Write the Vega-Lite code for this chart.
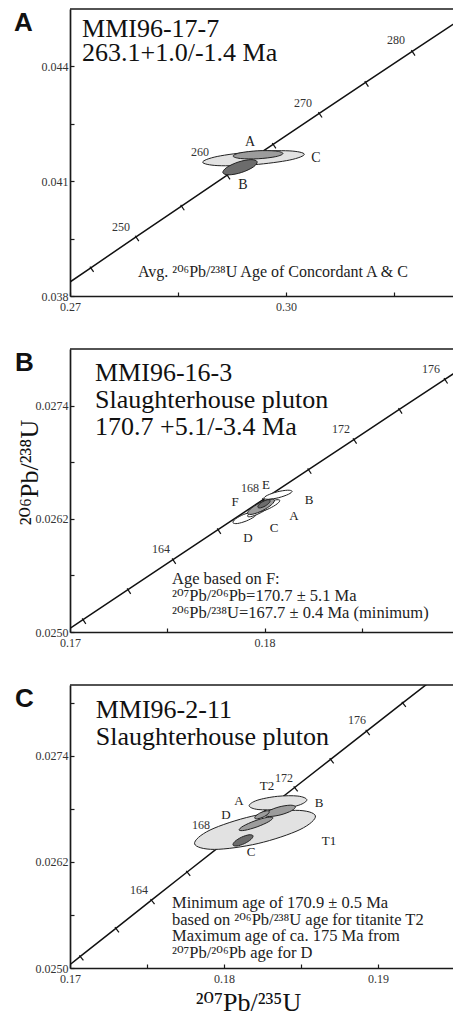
{
  "$schema": "https://vega.github.io/schema/vega-lite/v6.json",
  "padding": {"left": 14, "top": 8, "right": 0, "bottom": 0},
  "background": "white",
  "spacing": 36,
  "config": {
    "font": "Liberation Serif",
    "view": {"stroke": null},
    "axis": {"grid": false, "labelFont": "Liberation Serif", "labelFontSize": 12, "labelColor": "#333", "domainColor": "#1a1a1a", "domainWidth": 1.7, "tickColor": "#1a1a1a", "tickWidth": 1.2, "tickSize": -4, "labelFlush": false, "labelOverlap": false, "titleFont": "Liberation Serif, DejaVu Serif", "titleFontWeight": "normal", "titleFontSize": 26, "titleColor": "#111"},
    "axisX": {"labelPadding": 9},
    "axisY": {"labelPadding": 6},
    "title": {"font": "Liberation Sans", "fontWeight": "bold", "fontSize": 26, "color": "#111"}
  },
  "datasets": {
    "conc": [
      {"p": "A", "age": 240, "x": 0.266635, "y": 0.037932},
      {"p": "A", "age": 245, "x": 0.272888, "y": 0.038737},
      {"p": "A", "age": 250, "x": 0.279172, "y": 0.039543},
      {"p": "A", "age": 255, "x": 0.285486, "y": 0.040350},
      {"p": "A", "age": 260, "x": 0.291832, "y": 0.041157},
      {"p": "A", "age": 265, "x": 0.298209, "y": 0.041965},
      {"p": "A", "age": 270, "x": 0.304618, "y": 0.042773},
      {"p": "A", "age": 275, "x": 0.311057, "y": 0.043582},
      {"p": "A", "age": 280, "x": 0.317530, "y": 0.044392},
      {"p": "A", "age": 285, "x": 0.324033, "y": 0.045202},
      {"p": "A", "age": 290, "x": 0.330570, "y": 0.046013},
      {"p": "B", "age": 158, "x": 0.168366, "y": 0.0248126},
      {"p": "B", "age": 160, "x": 0.170670, "y": 0.0251306},
      {"p": "B", "age": 162, "x": 0.172978, "y": 0.0254487},
      {"p": "B", "age": 164, "x": 0.175291, "y": 0.0257669},
      {"p": "B", "age": 166, "x": 0.177608, "y": 0.0260851},
      {"p": "B", "age": 168, "x": 0.179930, "y": 0.0264035},
      {"p": "B", "age": 170, "x": 0.182256, "y": 0.0267220},
      {"p": "B", "age": 172, "x": 0.184587, "y": 0.0270406},
      {"p": "B", "age": 174, "x": 0.186923, "y": 0.0273593},
      {"p": "B", "age": 176, "x": 0.189263, "y": 0.0276781},
      {"p": "B", "age": 178, "x": 0.191607, "y": 0.0279969},
      {"p": "B", "age": 180, "x": 0.193957, "y": 0.0283159},
      {"p": "C", "age": 158, "x": 0.168366, "y": 0.0248126},
      {"p": "C", "age": 160, "x": 0.170670, "y": 0.0251306},
      {"p": "C", "age": 162, "x": 0.172978, "y": 0.0254487},
      {"p": "C", "age": 164, "x": 0.175291, "y": 0.0257669},
      {"p": "C", "age": 166, "x": 0.177608, "y": 0.0260851},
      {"p": "C", "age": 168, "x": 0.179930, "y": 0.0264035},
      {"p": "C", "age": 170, "x": 0.182256, "y": 0.0267220},
      {"p": "C", "age": 172, "x": 0.184587, "y": 0.0270406},
      {"p": "C", "age": 174, "x": 0.186923, "y": 0.0273593},
      {"p": "C", "age": 176, "x": 0.189263, "y": 0.0276781},
      {"p": "C", "age": 178, "x": 0.191607, "y": 0.0279969},
      {"p": "C", "age": 180, "x": 0.193957, "y": 0.0283159}
    ],
    "ell": [
      {"p": "A", "e": "C", "s": "light", "i": 0, "x": 0.302547, "y": 0.041704},
      {"p": "A", "e": "C", "s": "light", "i": 1, "x": 0.300529, "y": 0.041554},
      {"p": "A", "e": "C", "s": "light", "i": 2, "x": 0.295557, "y": 0.041431},
      {"p": "A", "e": "C", "s": "light", "i": 3, "x": 0.290543, "y": 0.041407},
      {"p": "A", "e": "C", "s": "light", "i": 4, "x": 0.288425, "y": 0.041496},
      {"p": "A", "e": "C", "s": "light", "i": 5, "x": 0.290443, "y": 0.041646},
      {"p": "A", "e": "C", "s": "light", "i": 6, "x": 0.295415, "y": 0.041769},
      {"p": "A", "e": "C", "s": "light", "i": 7, "x": 0.300429, "y": 0.041793},
      {"p": "A", "e": "A", "s": "medium", "i": 0, "x": 0.299579, "y": 0.041725},
      {"p": "A", "e": "A", "s": "medium", "i": 1, "x": 0.298584, "y": 0.041642},
      {"p": "A", "e": "A", "s": "medium", "i": 2, "x": 0.296140, "y": 0.041587},
      {"p": "A", "e": "A", "s": "medium", "i": 3, "x": 0.293679, "y": 0.041593},
      {"p": "A", "e": "A", "s": "medium", "i": 4, "x": 0.292643, "y": 0.041657},
      {"p": "A", "e": "A", "s": "medium", "i": 5, "x": 0.293638, "y": 0.041741},
      {"p": "A", "e": "A", "s": "medium", "i": 6, "x": 0.296082, "y": 0.041795},
      {"p": "A", "e": "A", "s": "medium", "i": 7, "x": 0.298543, "y": 0.041789},
      {"p": "A", "e": "B", "s": "dark", "i": 0, "x": 0.295989, "y": 0.041510},
      {"p": "A", "e": "B", "s": "dark", "i": 1, "x": 0.295459, "y": 0.041371},
      {"p": "A", "e": "B", "s": "dark", "i": 2, "x": 0.293847, "y": 0.041229},
      {"p": "A", "e": "B", "s": "dark", "i": 3, "x": 0.292096, "y": 0.041166},
      {"p": "A", "e": "B", "s": "dark", "i": 4, "x": 0.291233, "y": 0.041220},
      {"p": "A", "e": "B", "s": "dark", "i": 5, "x": 0.291763, "y": 0.041359},
      {"p": "A", "e": "B", "s": "dark", "i": 6, "x": 0.293375, "y": 0.041501},
      {"p": "A", "e": "B", "s": "dark", "i": 7, "x": 0.295126, "y": 0.041564},
      {"p": "B", "e": "D", "s": "white", "i": 0, "x": 0.179612, "y": 0.026263},
      {"p": "B", "e": "D", "s": "white", "i": 1, "x": 0.179478, "y": 0.026223},
      {"p": "B", "e": "D", "s": "white", "i": 2, "x": 0.179060, "y": 0.026177},
      {"p": "B", "e": "D", "s": "white", "i": 3, "x": 0.178603, "y": 0.026150},
      {"p": "B", "e": "D", "s": "white", "i": 4, "x": 0.178374, "y": 0.026159},
      {"p": "B", "e": "D", "s": "white", "i": 5, "x": 0.178508, "y": 0.026199},
      {"p": "B", "e": "D", "s": "white", "i": 6, "x": 0.178926, "y": 0.026246},
      {"p": "B", "e": "D", "s": "white", "i": 7, "x": 0.179383, "y": 0.026272},
      {"p": "B", "e": "C", "s": "white", "i": 0, "x": 0.180399, "y": 0.026366},
      {"p": "B", "e": "C", "s": "white", "i": 1, "x": 0.180264, "y": 0.026326},
      {"p": "B", "e": "C", "s": "white", "i": 2, "x": 0.179836, "y": 0.026268},
      {"p": "B", "e": "C", "s": "white", "i": 3, "x": 0.179366, "y": 0.026227},
      {"p": "B", "e": "C", "s": "white", "i": 4, "x": 0.179129, "y": 0.026226},
      {"p": "B", "e": "C", "s": "white", "i": 5, "x": 0.179264, "y": 0.026267},
      {"p": "B", "e": "C", "s": "white", "i": 6, "x": 0.179692, "y": 0.026324},
      {"p": "B", "e": "C", "s": "white", "i": 7, "x": 0.180162, "y": 0.026365},
      {"p": "B", "e": "A", "s": "white", "i": 0, "x": 0.180780, "y": 0.026396},
      {"p": "B", "e": "A", "s": "white", "i": 1, "x": 0.180649, "y": 0.026359},
      {"p": "B", "e": "A", "s": "white", "i": 2, "x": 0.180240, "y": 0.026309},
      {"p": "B", "e": "A", "s": "white", "i": 3, "x": 0.179793, "y": 0.026276},
      {"p": "B", "e": "A", "s": "white", "i": 4, "x": 0.179570, "y": 0.026280},
      {"p": "B", "e": "A", "s": "white", "i": 5, "x": 0.179701, "y": 0.026317},
      {"p": "B", "e": "A", "s": "white", "i": 6, "x": 0.180110, "y": 0.026367},
      {"p": "B", "e": "A", "s": "white", "i": 7, "x": 0.180557, "y": 0.026400},
      {"p": "B", "e": "B", "s": "white", "i": 0, "x": 0.181412, "y": 0.026492},
      {"p": "B", "e": "B", "s": "white", "i": 1, "x": 0.181226, "y": 0.026460},
      {"p": "B", "e": "B", "s": "white", "i": 2, "x": 0.180726, "y": 0.026424},
      {"p": "B", "e": "B", "s": "white", "i": 3, "x": 0.180204, "y": 0.026407},
      {"p": "B", "e": "B", "s": "white", "i": 4, "x": 0.179966, "y": 0.026418},
      {"p": "B", "e": "B", "s": "white", "i": 5, "x": 0.180152, "y": 0.026450},
      {"p": "B", "e": "B", "s": "white", "i": 6, "x": 0.180652, "y": 0.026486},
      {"p": "B", "e": "B", "s": "white", "i": 7, "x": 0.181174, "y": 0.026503},
      {"p": "B", "e": "F", "s": "medium", "i": 0, "x": 0.180502, "y": 0.026399},
      {"p": "B", "e": "F", "s": "medium", "i": 1, "x": 0.180367, "y": 0.026351},
      {"p": "B", "e": "F", "s": "medium", "i": 2, "x": 0.179908, "y": 0.026289},
      {"p": "B", "e": "F", "s": "medium", "i": 3, "x": 0.179395, "y": 0.026249},
      {"p": "B", "e": "F", "s": "medium", "i": 4, "x": 0.179128, "y": 0.026255},
      {"p": "B", "e": "F", "s": "medium", "i": 5, "x": 0.179263, "y": 0.026303},
      {"p": "B", "e": "F", "s": "medium", "i": 6, "x": 0.179722, "y": 0.026365},
      {"p": "B", "e": "F", "s": "medium", "i": 7, "x": 0.180235, "y": 0.026405},
      {"p": "B", "e": "E", "s": "dark", "i": 0, "x": 0.180280, "y": 0.026396},
      {"p": "B", "e": "E", "s": "dark", "i": 1, "x": 0.180234, "y": 0.026369},
      {"p": "B", "e": "E", "s": "dark", "i": 2, "x": 0.180033, "y": 0.026336},
      {"p": "B", "e": "E", "s": "dark", "i": 3, "x": 0.179794, "y": 0.026316},
      {"p": "B", "e": "E", "s": "dark", "i": 4, "x": 0.179658, "y": 0.026322},
      {"p": "B", "e": "E", "s": "dark", "i": 5, "x": 0.179704, "y": 0.026349},
      {"p": "B", "e": "E", "s": "dark", "i": 6, "x": 0.179905, "y": 0.026382},
      {"p": "B", "e": "E", "s": "dark", "i": 7, "x": 0.180144, "y": 0.026402},
      {"p": "C", "e": "T1", "s": "light", "i": 0, "x": 0.185936, "y": 0.026720},
      {"p": "C", "e": "T1", "s": "light", "i": 1, "x": 0.184932, "y": 0.026565},
      {"p": "C", "e": "T1", "s": "light", "i": 2, "x": 0.182218, "y": 0.026408},
      {"p": "C", "e": "T1", "s": "light", "i": 3, "x": 0.179384, "y": 0.026341},
      {"p": "C", "e": "T1", "s": "light", "i": 4, "x": 0.178090, "y": 0.026404},
      {"p": "C", "e": "T1", "s": "light", "i": 5, "x": 0.179094, "y": 0.026560},
      {"p": "C", "e": "T1", "s": "light", "i": 6, "x": 0.181808, "y": 0.026716},
      {"p": "C", "e": "T1", "s": "light", "i": 7, "x": 0.184642, "y": 0.026783},
      {"p": "C", "e": "T2", "s": "light", "i": 0, "x": 0.185379, "y": 0.026902},
      {"p": "C", "e": "T2", "s": "light", "i": 1, "x": 0.184862, "y": 0.026841},
      {"p": "C", "e": "T2", "s": "light", "i": 2, "x": 0.183550, "y": 0.026795},
      {"p": "C", "e": "T2", "s": "light", "i": 3, "x": 0.182213, "y": 0.026792},
      {"p": "C", "e": "T2", "s": "light", "i": 4, "x": 0.181633, "y": 0.026834},
      {"p": "C", "e": "T2", "s": "light", "i": 5, "x": 0.182150, "y": 0.026896},
      {"p": "C", "e": "T2", "s": "light", "i": 6, "x": 0.183462, "y": 0.026941},
      {"p": "C", "e": "T2", "s": "light", "i": 7, "x": 0.184799, "y": 0.026944},
      {"p": "C", "e": "D", "s": "medium", "i": 0, "x": 0.183176, "y": 0.026700},
      {"p": "C", "e": "D", "s": "medium", "i": 1, "x": 0.182905, "y": 0.026655},
      {"p": "C", "e": "D", "s": "medium", "i": 2, "x": 0.182149, "y": 0.026596},
      {"p": "C", "e": "D", "s": "medium", "i": 3, "x": 0.181352, "y": 0.026557},
      {"p": "C", "e": "D", "s": "medium", "i": 4, "x": 0.180980, "y": 0.026560},
      {"p": "C", "e": "D", "s": "medium", "i": 5, "x": 0.181251, "y": 0.026605},
      {"p": "C", "e": "D", "s": "medium", "i": 6, "x": 0.182007, "y": 0.026664},
      {"p": "C", "e": "D", "s": "medium", "i": 7, "x": 0.182804, "y": 0.026703},
      {"p": "C", "e": "B", "s": "medium", "i": 0, "x": 0.184639, "y": 0.026824},
      {"p": "C", "e": "B", "s": "medium", "i": 1, "x": 0.184393, "y": 0.026779},
      {"p": "C", "e": "B", "s": "medium", "i": 2, "x": 0.183703, "y": 0.026733},
      {"p": "C", "e": "B", "s": "medium", "i": 3, "x": 0.182974, "y": 0.026713},
      {"p": "C", "e": "B", "s": "medium", "i": 4, "x": 0.182633, "y": 0.026730},
      {"p": "C", "e": "B", "s": "medium", "i": 5, "x": 0.182879, "y": 0.026775},
      {"p": "C", "e": "B", "s": "medium", "i": 6, "x": 0.183569, "y": 0.026821},
      {"p": "C", "e": "B", "s": "medium", "i": 7, "x": 0.184298, "y": 0.026841},
      {"p": "C", "e": "A", "s": "medium", "i": 0, "x": 0.182939, "y": 0.026770},
      {"p": "C", "e": "A", "s": "medium", "i": 1, "x": 0.182850, "y": 0.026741},
      {"p": "C", "e": "A", "s": "medium", "i": 2, "x": 0.182537, "y": 0.026706},
      {"p": "C", "e": "A", "s": "medium", "i": 3, "x": 0.182184, "y": 0.026687},
      {"p": "C", "e": "A", "s": "medium", "i": 4, "x": 0.181997, "y": 0.026694},
      {"p": "C", "e": "A", "s": "medium", "i": 5, "x": 0.182086, "y": 0.026723},
      {"p": "C", "e": "A", "s": "medium", "i": 6, "x": 0.182399, "y": 0.026758},
      {"p": "C", "e": "A", "s": "medium", "i": 7, "x": 0.182752, "y": 0.026777},
      {"p": "C", "e": "C", "s": "dark", "i": 0, "x": 0.181881, "y": 0.026496},
      {"p": "C", "e": "C", "s": "dark", "i": 1, "x": 0.181759, "y": 0.026455},
      {"p": "C", "e": "C", "s": "dark", "i": 2, "x": 0.181330, "y": 0.026407},
      {"p": "C", "e": "C", "s": "dark", "i": 3, "x": 0.180844, "y": 0.026380},
      {"p": "C", "e": "C", "s": "dark", "i": 4, "x": 0.180587, "y": 0.026390},
      {"p": "C", "e": "C", "s": "dark", "i": 5, "x": 0.180709, "y": 0.026431},
      {"p": "C", "e": "C", "s": "dark", "i": 6, "x": 0.181138, "y": 0.026479},
      {"p": "C", "e": "C", "s": "dark", "i": 7, "x": 0.181624, "y": 0.026506}
    ],
    "ages": [
      {"p": "A", "t": "250", "x": 0.277083, "y": 0.039800},
      {"p": "A", "t": "260", "x": 0.288056, "y": 0.041757},
      {"p": "A", "t": "270", "x": 0.302361, "y": 0.043035},
      {"p": "A", "t": "280", "x": 0.315278, "y": 0.044678},
      {"p": "B", "t": "176", "x": 0.188551, "y": 0.027793},
      {"p": "B", "t": "172", "x": 0.183926, "y": 0.027156},
      {"p": "B", "t": "168", "x": 0.179250, "y": 0.026529},
      {"p": "B", "t": "164", "x": 0.174676, "y": 0.025881},
      {"p": "C", "t": "176", "x": 0.188636, "y": 0.027808},
      {"p": "C", "t": "172", "x": 0.183896, "y": 0.027151},
      {"p": "C", "t": "168", "x": 0.178506, "y": 0.026619},
      {"p": "C", "t": "164", "x": 0.174481, "y": 0.025883}
    ],
    "spots": [
      {"p": "A", "t": "A", "x": 0.295, "y": 0.042017},
      {"p": "A", "t": "C", "x": 0.304167, "y": 0.0416},
      {"p": "A", "t": "B", "x": 0.294028, "y": 0.040896},
      {"p": "B", "t": "E", "x": 0.180072, "y": 0.026561},
      {"p": "B", "t": "F", "x": 0.178479, "y": 0.026381},
      {"p": "B", "t": "B", "x": 0.182282, "y": 0.026402},
      {"p": "B", "t": "A", "x": 0.181511, "y": 0.026232},
      {"p": "B", "t": "C", "x": 0.180483, "y": 0.026104},
      {"p": "B", "t": "D", "x": 0.179147, "y": 0.025998},
      {"p": "C", "t": "T2", "x": 0.182792, "y": 0.027060},
      {"p": "C", "t": "A", "x": 0.180974, "y": 0.026891},
      {"p": "C", "t": "B", "x": 0.186169, "y": 0.026868},
      {"p": "C", "t": "D", "x": 0.180130, "y": 0.026732},
      {"p": "C", "t": "T1", "x": 0.186818, "y": 0.026438},
      {"p": "C", "t": "C", "x": 0.181753, "y": 0.026313}
    ],
    "heads": [
      {"p": "A", "x": 0.27167, "y": 0.044757, "t": ["MMI96-17-7", "263.1+1.0/-1.4 Ma"]},
      {"p": "B", "x": 0.171285, "y": 0.027665, "t": ["MMI96-16-3", "Slaughterhouse pluton", "170.7 +5.1/-3.4 Ma"]},
      {"p": "C", "x": 0.171669, "y": 0.027830, "t": ["MMI96-2-11", "Slaughterhouse pluton"]}
    ],
    "notes": [
      {"p": "A", "x": 0.279444, "y": 0.038496, "t": ["Avg. ²⁰⁶Pb/²³⁸U Age of Concordant A & C"]},
      {"p": "B", "x": 0.175242, "y": 0.025510, "t": ["Age based on F:", "²⁰⁷Pb/²⁰⁶Pb=170.7 ± 5.1 Ma", "²⁰⁶Pb/²³⁸U=167.7 ± 0.4 Ma (minimum)"]},
      {"p": "C", "x": 0.176623, "y": 0.025679, "t": ["Minimum age  of 170.9 ± 0.5 Ma", "based on ²⁰⁶Pb/²³⁸U age for titanite T2", "Maximum age of ca. 175 Ma from", "²⁰⁷Pb/²⁰⁶Pb age for D"]}
    ]
  },
  "vconcat": [
    {
      "title": {"text": "A", "anchor": "start", "frame": "group", "baseline": "top", "offset": -24, "dx": -56, "dy": 4},
      "width": 383,
      "height": 287,
      "layer": [
        {
          "encoding": {
            "x": {"field": "x", "type": "quantitative", "scale": {"domain": [0.27, 0.323194], "nice": false, "zero": false}, "axis": {"title": null, "values": [0.27, 0.285, 0.3, 0.315], "labelExpr": "datum.value == 0.27 || datum.value == 0.3 ? format(datum.value, '.2f') : ''"}},
            "y": {"field": "y", "type": "quantitative", "scale": {"domain": [0.038, 0.0455], "nice": false, "zero": false}, "axis": {"title": null, "values": [0.038, 0.0395, 0.041, 0.0425, 0.044], "labelExpr": "datum.value == 0.038 || datum.value == 0.041 || datum.value == 0.044 ? format(datum.value, '.3f') : ''"}}
          },
          "layer": [
            {"data": {"name": "conc"}, "transform": [{"filter": "datum.p == 'A'"}], "mark": {"type": "line", "clip": true, "stroke": "#111", "strokeWidth": 1.5}, "encoding": {"order": {"field": "age", "type": "quantitative"}}},
            {"data": {"name": "conc"}, "transform": [{"filter": "datum.p == 'A'"}], "mark": {"type": "point", "clip": true, "shape": "M0,-0.3L0,1", "size": 100, "angle": -34, "filled": false, "stroke": "#111", "strokeWidth": 1.2, "opacity": 1}},
            {"data": {"name": "ell"}, "transform": [{"filter": "datum.p == 'A'"}], "mark": {"type": "line", "interpolate": "cardinal-closed", "stroke": "#222", "strokeWidth": 1, "clip": true}, "encoding": {"detail": {"field": "e"}, "order": {"field": "i", "type": "quantitative"}, "fill": {"field": "s", "type": "nominal", "scale": {"domain": ["white", "light", "medium", "dark"], "range": ["#ffffff", "#e2e2e2", "#9c9c9c", "#6c6c6c"]}, "legend": null}}},
            {"data": {"name": "ages"}, "transform": [{"filter": "datum.p == 'A'"}], "mark": {"type": "text", "font": "Liberation Serif", "fontSize": 12, "color": "#333", "fill": "#333"}, "encoding": {"text": {"field": "t"}}},
            {"data": {"name": "spots"}, "transform": [{"filter": "datum.p == 'A'"}], "mark": {"type": "text", "font": "Liberation Serif", "fontSize": 14, "fill": "#222"}, "encoding": {"text": {"field": "t"}}},
            {"data": {"name": "heads"}, "transform": [{"filter": "datum.p == 'A'"}], "mark": {"type": "text", "font": "Liberation Serif", "fontSize": 26, "align": "left", "baseline": "alphabetic", "lineHeight": 24, "fill": "#111"}, "encoding": {"text": {"field": "t"}}},
            {"data": {"name": "notes"}, "transform": [{"filter": "datum.p == 'A'"}], "mark": {"type": "text", "font": "Liberation Serif, DejaVu Serif", "fontSize": 16, "align": "left", "baseline": "alphabetic", "lineHeight": 17, "fill": "#222"}, "encoding": {"text": {"field": "t"}}}
          ]
        },
        {"data": {"values": [{}]}, "mark": {"type": "rule", "stroke": "#1a1a1a", "strokeWidth": 1.7}, "encoding": {"y": {"datum": 0.0455, "type": "quantitative"}}}
      ]
    },
    {
      "title": {"text": "B", "anchor": "start", "frame": "group", "baseline": "top", "offset": -24, "dx": -55, "dy": 4},
      "width": 383,
      "height": 283,
      "layer": [
        {
          "encoding": {
            "x": {"field": "x", "type": "quantitative", "scale": {"domain": [0.17, 0.189682], "nice": false, "zero": false}, "axis": {"title": null, "values": [0.17, 0.175, 0.18, 0.185], "labelExpr": "datum.value == 0.17 || datum.value == 0.18 ? format(datum.value, '.2f') : ''"}},
            "y": {"field": "y", "type": "quantitative", "scale": {"domain": [0.025, 0.028], "nice": false, "zero": false}, "axis": {"title": "²⁰⁶Pb/²³⁸U", "titleX": -33, "titleY": 123, "titleBaseline": "alphabetic", "titleAngle": 270, "values": [0.025, 0.0256, 0.0262, 0.0268, 0.0274], "labelExpr": "datum.value == 0.025 || datum.value == 0.0262 || datum.value == 0.0274 ? format(datum.value, '.4f') : ''"}}
          },
          "layer": [
            {"data": {"name": "conc"}, "transform": [{"filter": "datum.p == 'B'"}], "mark": {"type": "line", "clip": true, "stroke": "#111", "strokeWidth": 1.5}, "encoding": {"order": {"field": "age", "type": "quantitative"}}},
            {"data": {"name": "conc"}, "transform": [{"filter": "datum.p == 'B'"}], "mark": {"type": "point", "clip": true, "shape": "M0,-0.3L0,1", "size": 100, "angle": -33.5, "filled": false, "stroke": "#111", "strokeWidth": 1.2, "opacity": 1}},
            {"data": {"name": "ell"}, "transform": [{"filter": "datum.p == 'B'"}], "mark": {"type": "line", "interpolate": "cardinal-closed", "stroke": "#222", "strokeWidth": 1, "clip": true}, "encoding": {"detail": {"field": "e"}, "order": {"field": "i", "type": "quantitative"}, "fill": {"field": "s", "type": "nominal", "scale": {"domain": ["white", "light", "medium", "dark"], "range": ["#ffffff", "#e2e2e2", "#8a8a8a", "#6c6c6c"]}, "legend": null}}},
            {"data": {"name": "ages"}, "transform": [{"filter": "datum.p == 'B'"}], "mark": {"type": "text", "font": "Liberation Serif", "fontSize": 12, "color": "#333", "fill": "#333"}, "encoding": {"text": {"field": "t"}}},
            {"data": {"name": "spots"}, "transform": [{"filter": "datum.p == 'B'"}], "mark": {"type": "text", "font": "Liberation Serif", "fontSize": 13, "fill": "#222"}, "encoding": {"text": {"field": "t"}}},
            {"data": {"name": "heads"}, "transform": [{"filter": "datum.p == 'B'"}], "mark": {"type": "text", "font": "Liberation Serif", "fontSize": 26, "align": "left", "baseline": "alphabetic", "lineHeight": 27, "fill": "#111"}, "encoding": {"text": {"field": "t"}}},
            {"data": {"name": "notes"}, "transform": [{"filter": "datum.p == 'B'"}], "mark": {"type": "text", "font": "Liberation Serif, DejaVu Serif", "fontSize": 16.5, "align": "left", "baseline": "alphabetic", "lineHeight": 17, "fill": "#222"}, "encoding": {"text": {"field": "t"}}}
          ]
        },
        {"data": {"values": [{}]}, "mark": {"type": "rule", "stroke": "#1a1a1a", "strokeWidth": 1.7}, "encoding": {"y": {"datum": 0.028, "type": "quantitative"}}}
      ]
    },
    {
      "title": {"text": "C", "anchor": "start", "frame": "group", "baseline": "top", "offset": -24, "dx": -55, "dy": 4},
      "width": 383,
      "height": 283,
      "layer": [
        {
          "encoding": {
            "x": {"field": "x", "type": "quantitative", "scale": {"domain": [0.17, 0.19487], "nice": false, "zero": false}, "axis": {"title": "²⁰⁷Pb/²³⁵U", "titleX": 178, "titleY": 42, "titleBaseline": "alphabetic", "values": [0.17, 0.175, 0.18, 0.185, 0.19], "labelExpr": "datum.value == 0.17 || datum.value == 0.18 || datum.value == 0.19 ? format(datum.value, '.2f') : ''"}},
            "y": {"field": "y", "type": "quantitative", "scale": {"domain": [0.025, 0.0282], "nice": false, "zero": false}, "axis": {"title": null, "values": [0.025, 0.0256, 0.0262, 0.0268, 0.0274, 0.028], "labelExpr": "datum.value == 0.025 || datum.value == 0.0262 || datum.value == 0.0274 ? format(datum.value, '.4f') : ''"}}
          },
          "layer": [
            {"data": {"name": "conc"}, "transform": [{"filter": "datum.p == 'C'"}], "mark": {"type": "line", "clip": true, "stroke": "#111", "strokeWidth": 1.5}, "encoding": {"order": {"field": "age", "type": "quantitative"}}},
            {"data": {"name": "conc"}, "transform": [{"filter": "datum.p == 'C'"}], "mark": {"type": "point", "clip": true, "shape": "M0,-0.3L0,1", "size": 100, "angle": -38, "filled": false, "stroke": "#111", "strokeWidth": 1.2, "opacity": 1}},
            {"data": {"name": "ell"}, "transform": [{"filter": "datum.p == 'C'"}], "mark": {"type": "line", "interpolate": "cardinal-closed", "stroke": "#222", "strokeWidth": 1, "clip": true}, "encoding": {"detail": {"field": "e"}, "order": {"field": "i", "type": "quantitative"}, "fill": {"field": "s", "type": "nominal", "scale": {"domain": ["white", "light", "medium", "dark"], "range": ["#ffffff", "#e2e2e2", "#8e8e8e", "#686868"]}, "legend": null}}},
            {"data": {"name": "ages"}, "transform": [{"filter": "datum.p == 'C'"}], "mark": {"type": "text", "font": "Liberation Serif", "fontSize": 12, "color": "#333", "fill": "#333"}, "encoding": {"text": {"field": "t"}}},
            {"data": {"name": "spots"}, "transform": [{"filter": "datum.p == 'C'"}], "mark": {"type": "text", "font": "Liberation Serif", "fontSize": 13, "fill": "#222"}, "encoding": {"text": {"field": "t"}}},
            {"data": {"name": "heads"}, "transform": [{"filter": "datum.p == 'C'"}], "mark": {"type": "text", "font": "Liberation Serif", "fontSize": 26, "align": "left", "baseline": "alphabetic", "lineHeight": 27, "fill": "#111"}, "encoding": {"text": {"field": "t"}}},
            {"data": {"name": "notes"}, "transform": [{"filter": "datum.p == 'C'"}], "mark": {"type": "text", "font": "Liberation Serif, DejaVu Serif", "fontSize": 16.5, "align": "left", "baseline": "alphabetic", "lineHeight": 16.7, "fill": "#222"}, "encoding": {"text": {"field": "t"}}}
          ]
        },
        {"data": {"values": [{}]}, "mark": {"type": "rule", "stroke": "#1a1a1a", "strokeWidth": 1.7}, "encoding": {"y": {"datum": 0.0282, "type": "quantitative"}}}
      ]
    }
  ]
}
